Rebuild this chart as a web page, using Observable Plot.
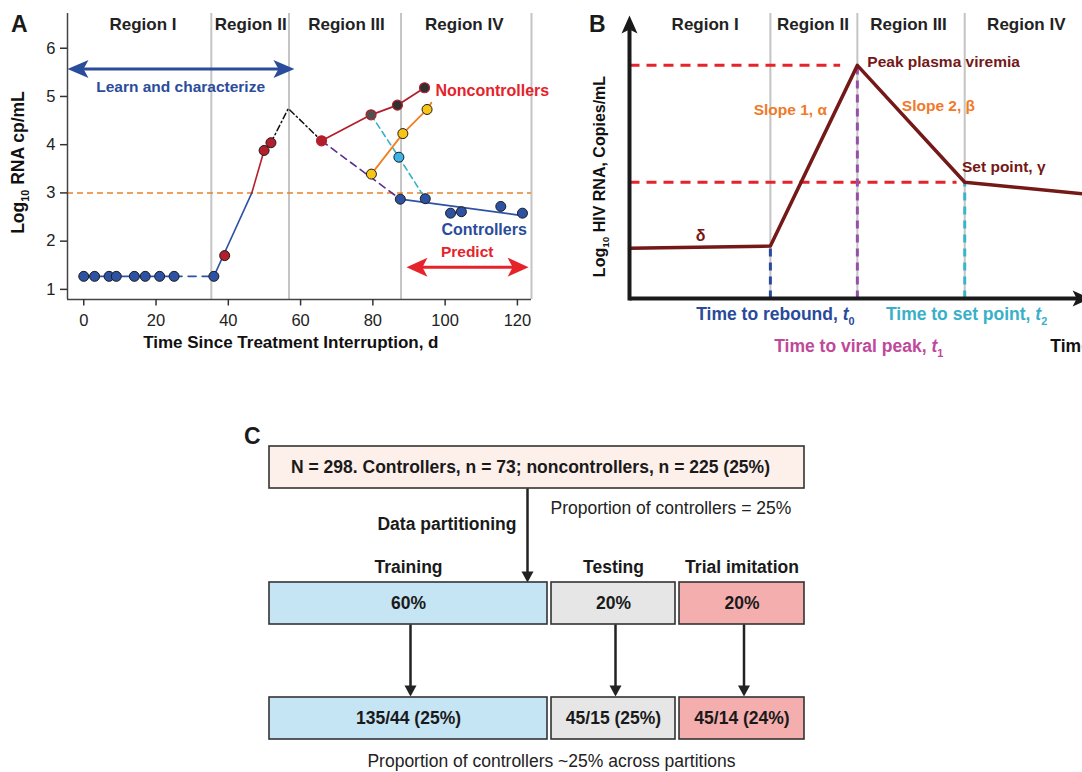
<!DOCTYPE html>
<html><head><meta charset="utf-8">
<script src="https://cdn.jsdelivr.net/npm/d3@7"></script>
<script src="https://cdn.jsdelivr.net/npm/@observablehq/plot@0.6"></script>
<style>
html,body{margin:0;padding:0;background:#fff;}
#root{position:relative;width:1082px;height:772px;overflow:hidden;font-family:"Liberation Sans",Arial,Helvetica,sans-serif;}
.panel{position:absolute;}
.letter{position:absolute;font-weight:bold;font-size:23px;line-height:23px;color:#1a1a1a;}
</style></head><body><div id="root"></div>
<script>
// ---------------- Panel A data ----------------
const regionNames = ["Region I", "Region II", "Region III", "Region IV"];
const regionBoundsA = [35.3, 56.8, 87.8, 123.9];
const regionLabelDaysA = [16.4, 46.2, 72.7, 105.3];
const xTicksA = [0, 20, 40, 60, 80, 100, 120];
const yTicksA = [1, 2, 3, 4, 5, 6];
const thresholdLog = 3;

const offDays = [0, 3, 7, 9, 14, 17, 21, 25, 36];
const offLog = [1.27, 1.27, 1.27, 1.27, 1.27, 1.27, 1.27, 1.27, 1.27];
const riseDays = [36, 46.5];
const riseLog = [1.27, 3.0];
const reboundDays = [46.5, 49.9, 51.8];
const reboundLog = [3.0, 3.88, 4.04];
const earlyRedDays = [39, 49.9, 51.8];
const earlyRedLog = [1.70, 3.88, 4.04];
const peakDays = [51.8, 56.6, 65.8];
const peakLog = [4.04, 4.75, 4.08];
const nonDays = [65.8, 79.5, 86.8, 94.3];
const nonLog = [4.08, 4.62, 4.82, 5.18];
const nonShade = ["#b3202b", "#505050", "#303030", "#303030"];
const orangeDays = [79.6, 88.3, 95.0, 96.2];
const orangeLog = [3.39, 4.23, 4.73, 4.87];
const cyanDays = [79.5, 87.2, 94.5];
const cyanLog = [4.62, 3.74, 2.88];
const purpleDays = [65.8, 87.6];
const purpleLog = [4.08, 2.87];
const ctrlDays = [87.6, 94.5, 101.5, 104.5, 115.4, 121.4];
const ctrlLog = [2.87, 2.88, 2.58, 2.61, 2.72, 2.58];
const ctrlFitDays = [87.6, 122.3];
const ctrlFitLog = [2.87, 2.52];
const learnSpan = [-4.5, 58.3];
const learnLevel = 5.57;
const predictSpan = [89.3, 123.1];
const predictLevel = 1.46;

// ---------------- Panel B data ----------------
const regionBoundsB = [31.1, 50.3, 74.0];
const regionLabelXB = [16.7, 40.5, 61.6, 87.6];
const kineticsT = [0, 31.1, 50.3, 74.0, 100];
const kineticsV = [17.6, 18.4, 81.8, 40.8, 36.7];
const guideEnds = [46.5, 72.2];

// ---------------- Panel C data ----------------
const cohortText = "N = 298. Controllers, n = 73; noncontrollers, n = 225 (25%)";
const cohortNote = "Proportion of controllers = 25%";
const partitionStep = "Data partitioning";
const partitionNames = ["Training", "Testing", "Trial imitation"];
const partitionShares = ["60%", "20%", "20%"];
const partitionCounts = ["135/44 (25%)", "45/15 (25%)", "45/14 (24%)"];
const partitionFills = ["#c5e5f5", "#e6e6e6", "#f4aeae"];
const acrossNote = "Proportion of controllers ~25% across partitions";

// ---------------- helpers ----------------
const FONT = '"Liberation Sans", Arial, Helvetica, sans-serif';
const pts = (xs, ys) => xs.map((x, i) => ({x, y: ys[i]}));
function arrowHead(len, half, notch) {
  return {draw(ctx) {
    ctx.moveTo(0, 0); ctx.lineTo(half, len); ctx.lineTo(0, len - notch); ctx.lineTo(-half, len); ctx.closePath();
  }};
}
function richify(svg) {
  d3.select(svg).selectAll("text").each(function() {
    const t = this.textContent;
    if (!/_\{|\*/.test(t)) return;
    const fs = parseFloat(getComputedStyle(this).fontSize) || 16;
    const parts = t.split(/(_\{[^}]*\}|\*[^*]*\*)/).filter(s => s.length);
    while (this.firstChild) this.removeChild(this.firstChild);
    const sel = d3.select(this);
    let shifted = false;
    for (const p of parts) {
      const ts = sel.append("tspan");
      if (p.startsWith("_{")) {
        ts.text(p.slice(2, -1)).attr("font-size", fs * 0.62).attr("dy", fs * 0.28);
        shifted = true;
      } else {
        if (shifted) { ts.attr("dy", -fs * 0.28); shifted = false; }
        if (p.startsWith("*")) ts.text(p.slice(1, -1)).attr("font-style", "italic");
        else ts.text(p);
      }
    }
  });
}
const root = document.getElementById("root");
function place(node, left, top) {
  node.classList.add("panel");
  node.style.left = left + "px"; node.style.top = top + "px";
  root.appendChild(node);
  richify(node);
}
function letter(txt, left, top) {
  const d = document.createElement("div");
  d.className = "letter"; d.textContent = txt;
  d.style.left = left + "px"; d.style.top = top + "px";
  root.appendChild(d);
}

// ---------------- Panel A ----------------
const BLUE = "#2d52a3", RED = "#b3202b", DOTSTROKE = "#1c1c1c";
const xDomA = [-4.5, 123.9], yDomA = [0.79, 6.72];
const plotA = Plot.plot({
  width: 560, height: 360, marginLeft: 67, marginRight: 29, marginTop: 13, marginBottom: 61,
  style: {fontFamily: FONT, fontSize: "16.5px", color: "#222", background: "transparent", overflow: "visible"},
  x: {domain: xDomA},
  y: {domain: yDomA},
  marks: [
    Plot.ruleX(regionBoundsA, {stroke: "#c4c4c4", strokeWidth: 2}),
    Plot.ruleY([thresholdLog], {stroke: "#e8822a", strokeWidth: 1.5, strokeDasharray: "6,4"}),
    Plot.ruleX([xDomA[0]], {stroke: "#444", strokeWidth: 1.5}),
    Plot.ruleY([yDomA[0]], {stroke: "#444", strokeWidth: 1.5}),
    Plot.axisX({ticks: xTicksA, tickFormat: d => String(d), tickSize: 6.5, tickPadding: 8, label: null, stroke: "#333", strokeWidth: 1.5}),
    Plot.axisY({ticks: yTicksA, tickFormat: d => String(d), tickSize: 7, tickPadding: 5, label: null, stroke: "#333", strokeWidth: 1.5}),
    // baseline (off treatment) values
    Plot.line(pts(offDays.slice(0, 8), offLog.slice(0, 8)), {x: "x", y: "y", stroke: BLUE, strokeWidth: 1.6}),
    Plot.line(pts(offDays.slice(7), offLog.slice(7)), {x: "x", y: "y", stroke: BLUE, strokeWidth: 1.6, strokeDasharray: "8,6"}),
    Plot.line(pts(riseDays, riseLog), {x: "x", y: "y", stroke: BLUE, strokeWidth: 1.6}),
    Plot.line(pts(reboundDays, reboundLog), {x: "x", y: "y", stroke: RED, strokeWidth: 1.6}),
    Plot.line(pts(peakDays, peakLog), {x: "x", y: "y", stroke: "#111", strokeWidth: 1.5, strokeDasharray: "6,3,1.5,3"}),
    Plot.line(pts(purpleDays, purpleLog), {x: "x", y: "y", stroke: "#5b2d8e", strokeWidth: 1.6, strokeDasharray: "7,5"}),
    Plot.line(pts(cyanDays, cyanLog), {x: "x", y: "y", stroke: "#3ab0c8", strokeWidth: 1.6, strokeDasharray: "6,4"}),
    Plot.line(pts(nonDays, nonLog), {x: "x", y: "y", stroke: RED, strokeWidth: 1.8}),
    Plot.line(pts(orangeDays, orangeLog), {x: "x", y: "y", stroke: "#f08020", strokeWidth: 1.8}),
    Plot.line(pts(ctrlFitDays, ctrlFitLog), {x: "x", y: "y", stroke: BLUE, strokeWidth: 1.8}),
    // dots
    Plot.dot(pts(offDays, offLog), {x: "x", y: "y", r: 5, fill: BLUE, stroke: DOTSTROKE, strokeWidth: 1}),
    Plot.dot(pts(earlyRedDays, earlyRedLog), {x: "x", y: "y", r: 5, fill: RED, stroke: DOTSTROKE, strokeWidth: 1}),
    Plot.dot(pts(nonDays, nonLog), {x: "x", y: "y", r: 5, fill: (d, i) => nonShade[i], stroke: RED, strokeWidth: 1.2}),
    Plot.dot(pts(orangeDays.slice(0, 3), orangeLog.slice(0, 3)), {x: "x", y: "y", r: 5, fill: "#f7c515", stroke: DOTSTROKE, strokeWidth: 1}),
    Plot.dot(pts(cyanDays.slice(1, 2), cyanLog.slice(1, 2)), {x: "x", y: "y", r: 5, fill: "#3cb4e8", stroke: DOTSTROKE, strokeWidth: 1}),
    Plot.dot(pts(ctrlDays, ctrlLog), {x: "x", y: "y", r: 5, fill: BLUE, stroke: DOTSTROKE, strokeWidth: 1}),
    // arrows
    Plot.link([learnSpan], {x1: d => d[0] + 3, x2: d => d[1] - 3, y1: () => learnLevel, y2: () => learnLevel, stroke: "#2b4c9b", strokeWidth: 3}),
    Plot.dot([{x: learnSpan[0], r: -90}, {x: learnSpan[1], r: 90}], {x: "x", y: () => learnLevel, rotate: "r", symbol: arrowHead(21, 9, 5), fill: "#2b4c9b", stroke: "none"}),
    Plot.link([predictSpan], {x1: d => d[0] + 3, x2: d => d[1] - 3, y1: () => predictLevel, y2: () => predictLevel, stroke: "#e5232b", strokeWidth: 3}),
    Plot.dot([{x: predictSpan[0], r: -90}, {x: predictSpan[1], r: 90}], {x: "x", y: () => predictLevel, rotate: "r", symbol: arrowHead(21, 9.5, 5), fill: "#e5232b", stroke: "none"}),
    // texts
    Plot.text(regionNames, {x: (d, i) => regionLabelDaysA[i], y: () => 6.49, text: d => d, fontWeight: "bold", fontSize: 17, fill: "#222"}),
    Plot.text(["Learn and characterize"], {x: () => 26.8, y: () => 5.19, text: d => d, fontWeight: "bold", fontSize: 15.5, fill: "#2b4c9b"}),
    Plot.text(["Noncontrollers"], {x: () => 97.3, y: () => 5.11, text: d => d, textAnchor: "start", fontWeight: "bold", fontSize: 16, fill: "#e5232b"}),
    Plot.text(["Controllers"], {x: () => 110.8, y: () => 2.24, text: d => d, fontWeight: "bold", fontSize: 16, fill: "#2b4c9b"}),
    Plot.text(["Predict"], {x: () => 106.1, y: () => 1.77, text: d => d, fontWeight: "bold", fontSize: 15.5, fill: "#e5232b"}),
    Plot.text(["Time Since Treatment Interruption, d"], {x: () => 57.3, frameAnchor: "bottom", dy: 48, text: d => d, fontWeight: "bold", fontSize: 17, fill: "#111"}),
    Plot.text(["Log_{10} RNA cp/mL"], {frameAnchor: "left", y: () => 3.63, dx: -49, rotate: -90, textAnchor: "middle", text: d => d, fontWeight: "bold", fontSize: 17.5, fill: "#111"})
  ]
});
place(plotA, 0, 0);
letter("A", 11, 13);

// ---------------- Panel B ----------------
const DARKRED = "#741818";
const plotB = Plot.plot({
  width: 502, height: 372, marginLeft: 49, marginRight: 0, marginTop: 13, marginBottom: 74,
  style: {fontFamily: FONT, fontSize: "16px", color: "#222", background: "transparent", overflow: "hidden"},
  x: {domain: [0, 100], axis: null},
  y: {domain: [0, 100], axis: null},
  marks: [
    Plot.ruleX(regionBoundsB, {stroke: "#c4c4c4", strokeWidth: 2}),
    Plot.link([0, 1], {x1: () => 0, x2: i => guideEnds[i], y1: i => kineticsV[2 + i], y2: i => kineticsV[2 + i], stroke: "#e5232b", strokeWidth: 3, strokeDasharray: "10,7"}),
    Plot.link([1, 2, 3], {x1: i => kineticsT[i], x2: i => kineticsT[i], y1: () => 0, y2: i => kineticsV[i], stroke: (i) => ["", "#2a4a9a", "#9650a6", "#38b4cc"][i], strokeWidth: 3, strokeDasharray: "8,6"}),
    Plot.line(pts(kineticsT, kineticsV), {x: "x", y: "y", stroke: DARKRED, strokeWidth: 3.5}),
    // axes with arrow heads
    Plot.link([0], {x1: () => 0, x2: () => 0, y1: () => -0.7, y2: () => 95, stroke: "#1a1a1a", strokeWidth: 4}),
    Plot.link([0], {x1: () => 0, x2: () => 99, y1: () => 0, y2: () => 0, stroke: "#1a1a1a", strokeWidth: 4}),
    Plot.dot([{x: 0, y: 99.3, r: 0}, {x: 101.8, y: 0, r: 90}], {x: "x", y: "y", rotate: "r", symbol: arrowHead(18, 8, 4), fill: "#1a1a1a", stroke: "none"}),
    // labels
    Plot.text(regionNames, {x: (d, i) => regionLabelXB[i], y: () => 96.1, text: d => d, fontWeight: "bold", fontSize: 17, fill: "#222"}),
    Plot.text(["Peak plasma viremia"], {x: () => 52.5, y: () => 82.8, text: d => d, textAnchor: "start", fontWeight: "bold", fontSize: 15.5, fill: DARKRED}),
    Plot.text(["Slope 1, α"], {x: () => 35.5, y: () => 66, text: d => d, fontWeight: "bold", fontSize: 15.5, fill: "#f07a2a"}),
    Plot.text(["Slope 2, β"], {x: () => 68.2, y: () => 67.7, text: d => d, fontWeight: "bold", fontSize: 15.5, fill: "#f07a2a"}),
    Plot.text(["Set point, γ"], {x: () => 73.4, y: () => 46.3, text: d => d, textAnchor: "start", fontWeight: "bold", fontSize: 15.5, fill: DARKRED}),
    Plot.text(["δ"], {x: () => 15.7, y: () => 21.8, text: d => d, fontWeight: "bold", fontSize: 16, fill: DARKRED}),
    Plot.text(["Time to rebound, *t*_{0}"], {x: () => 32.2, y: () => -5.6, text: d => d, fontWeight: "bold", fontSize: 17.5, fill: "#2a4a9a"}),
    Plot.text(["Time to set point, *t*_{2}"], {x: () => 74.4, y: () => -5.6, text: d => d, fontWeight: "bold", fontSize: 17.5, fill: "#38b0c8"}),
    Plot.text(["Time to viral peak, *t*_{1}"], {x: () => 50.6, y: () => -16.8, text: d => d, fontWeight: "bold", fontSize: 17.5, fill: "#c0489a"}),
    Plot.text(["Time"], {x: () => 92.9, y: () => -16.8, text: d => d, textAnchor: "start", fontWeight: "bold", fontSize: 17.5, fill: "#111"}),
    Plot.text(["Log_{10} HIV RNA, Copies/mL"], {x: () => 0, y: () => 42.8, dx: -30, rotate: -90, text: d => d, fontWeight: "bold", fontSize: 16, fill: "#111"})
  ]
});
place(plotB, 580, 0);
letter("B", 589, 13);

// ---------------- Panel C ----------------
const topBox = {x1: 29, x2: 564, y1: 26, y2: 68};
const colX1 = [29, 311, 439];
const colX2 = [307, 435, 564];
const partRow = [162, 204];
const countRow = [277, 319];
const stemX = 287;
const colMid = i => (colX1[i] + colX2[i]) / 2;
const plotC = Plot.plot({
  width: 590, height: 352, margin: 0,
  style: {fontFamily: FONT, fontSize: "17.5px", color: "#222", background: "transparent", overflow: "visible"},
  x: {domain: [0, 590], axis: null},
  y: {domain: [352, 0], axis: null},
  marks: [
    Plot.rect([topBox], {x1: "x1", x2: "x2", y1: "y1", y2: "y2", fill: "#fdefea", stroke: "#333", strokeWidth: 1.6}),
    Plot.text([cohortText], {x: () => 290, y: () => (topBox.y1 + topBox.y2) / 2, text: d => d, fontWeight: "bold", fontSize: 17.5, fill: "#1a1a1a"}),
    Plot.link([0], {x1: () => stemX, x2: () => stemX, y1: () => topBox.y2, y2: () => partRow[0] - 8, stroke: "#222", strokeWidth: 2.5}),
    Plot.dot([0], {x: () => stemX, y: () => partRow[0], rotate: 180, symbol: arrowHead(11, 6, 0), fill: "#222", stroke: "none"}),
    Plot.text([cohortNote], {x: () => 310, y: () => 88, text: d => d, textAnchor: "start", fontSize: 17.5, fill: "#222"}),
    Plot.text([partitionStep], {x: () => 276, y: () => 104, text: d => d, textAnchor: "end", fontWeight: "bold", fontSize: 17.5, fill: "#1a1a1a"}),
    Plot.text(partitionNames, {x: (d, i) => colMid(i), y: () => 147, text: d => d, fontWeight: "bold", fontSize: 17.5, fill: "#1a1a1a"}),
    Plot.rect(partitionShares, {x1: (d, i) => colX1[i], x2: (d, i) => colX2[i], y1: () => partRow[0], y2: () => partRow[1], fill: (d, i) => partitionFills[i], stroke: "#333", strokeWidth: 1.6}),
    Plot.text(partitionShares, {x: (d, i) => colMid(i), y: () => (partRow[0] + partRow[1]) / 2, text: d => d, fontWeight: "bold", fontSize: 17.5, fill: "#1a1a1a"}),
    Plot.link(partitionNames, {x1: (d, i) => colMid(i) + 2, x2: (d, i) => colMid(i) + 2, y1: () => partRow[1], y2: () => countRow[0] - 8, stroke: "#222", strokeWidth: 2.5}),
    Plot.dot(partitionNames, {x: (d, i) => colMid(i) + 2, y: () => countRow[0] - 1, rotate: 180, symbol: arrowHead(11, 6, 0), fill: "#222", stroke: "none"}),
    Plot.rect(partitionCounts, {x1: (d, i) => colX1[i], x2: (d, i) => colX2[i], y1: () => countRow[0], y2: () => countRow[1], fill: (d, i) => partitionFills[i], stroke: "#333", strokeWidth: 1.6}),
    Plot.text(partitionCounts, {x: (d, i) => colMid(i), y: () => (countRow[0] + countRow[1]) / 2, text: d => d, fontWeight: "bold", fontSize: 17.5, fill: "#1a1a1a"}),
    Plot.text([acrossNote], {x: () => 311, y: () => 341, text: d => d, fontSize: 17.5, fill: "#222"})
  ]
});
place(plotC, 240, 420);
letter("C", 244, 425);
</script></body></html>
